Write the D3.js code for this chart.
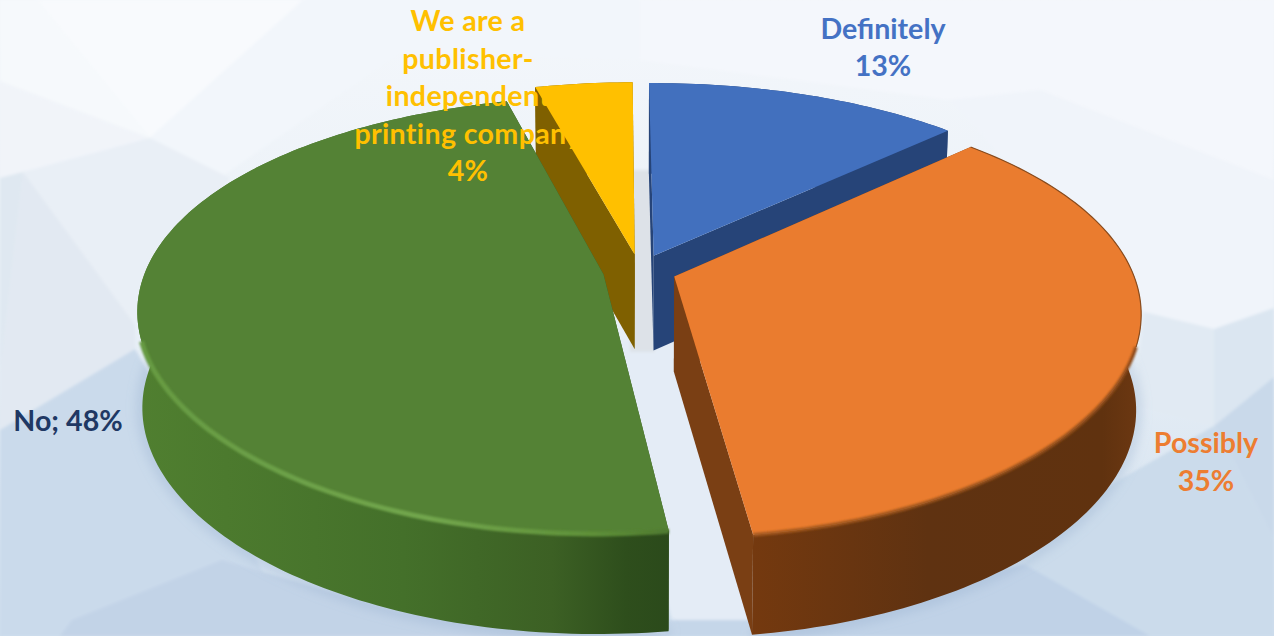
<!DOCTYPE html>
<html>
<head>
<meta charset="utf-8">
<style>
  html, body { margin: 0; padding: 0; background: #eef3f9; overflow: hidden; }
  svg { display: block; }
  text { font-family: Lato, "Open Sans", sans-serif; font-weight: 700; }
</style>
<script src="https://cdn.jsdelivr.net/npm/d3@7/dist/d3.min.js"></script>
</head>
<body>
<svg id="chart" width="1274" height="636"></svg>
<script>
// Survey answers, in clockwise order from twelve o'clock.
const categories = ["Definitely", "Possibly", "No", "We are a publisher-independent printing company"];
const shares = [13, 35, 48, 4];
const topColors = ["#4270be", "#ea7c2f", "#548235", "#ffc000"];
const faceColors = ["#264478", "#7a3f14", "#385723", "#7f6000"];
const rimWidths = [0, 3.5, 5, 0];
const labelColors = ["#4472c4", "#ed7d31", "#1f3864", "#ffc000"];
const labelTracking = [0, 0, 0, 0.35];

// Horizontal shading of each outer wall: [offset, colour] stops.
const wallStops = [
  [[0, "#264478"], [1, "#264478"]],
  [[0, "#74390f"], [0.45, "#5f3211"], [0.9, "#60320f"], [1, "#6d3812"]],
  [[0, "#507f30"], [0.5, "#44702a"], [0.78, "#3c6024"], [0.92, "#2e4e1c"], [1, "#2b4a1b"]],
  [[0, "#7f6000"], [1, "#7f6000"]]
];
const rimStops = [
  [[0, "#4f7ccb"], [1, "#4f7ccb"]],
  [[0, "#a65a20"], [1, "#8f4c1a"]],
  [[0, "#669a42"], [0.55, "#72a64d"], [0.85, "#5f9139"], [1, "#4f7a30"]],
  [[0, "#ffcc33"], [1, "#ffcc33"]]
];

// Label layout: line breaks and anchor of the first baseline.
const labelLines = [
  ["Definitely", "13%"],
  ["Possibly", "35%"],
  ["No; 48%"],
  ["We are a", "publisher-", "independent", "printing company", "4%"]
];
const labelAnchors = [[883, 38.5], [1206, 453], [68, 431], [468, 31]];
const labelLeading = 37.5;

// Low-poly backdrop: polygon corners and fills, painted in order.
const backdropFacets = [
  { fill: "#f8fafd", pts: [[37, 0], [150, 138], [303, 0]] },
  { fill: "#f2f6fb", pts: [[303, 0], [640, 0], [640, 60], [400, 53], [220, 178], [150, 138]] },
  { fill: "#f1f4f9", pts: [[0, 81], [150, 138], [23, 172], [0, 178]] },
  { fill: "#f6f9fc", pts: [[0, 0], [37, 0], [150, 138], [0, 81]] },
  { fill: "#e9eff6", pts: [[150, 138], [23, 172], [135, 325], [140, 320], [230, 178]] },
  { fill: "#dfe8f1", pts: [[23, 172], [0, 178], [0, 372]] },
  { fill: "#e2e9f2", pts: [[23, 172], [135, 325], [135, 349], [0, 430], [0, 372]] },
  { fill: "#cadaeb", pts: [[0, 430], [135, 349], [300, 636], [0, 636]] },
  { fill: "#c2d3e7", pts: [[60, 636], [72, 620], [222, 560], [400, 612], [680, 636]] },
  { fill: "#f4f7fc", pts: [[640, 0], [1274, 0], [1274, 180], [1040, 90], [950, 100], [640, 60]] },
  { fill: "#f0f4fa", pts: [[950, 100], [1040, 90], [1274, 180], [1274, 308], [1214, 329], [1144, 312]] },
  { fill: "#e1eaf3", pts: [[1144, 312], [1214, 329], [1214, 426], [1134, 406]] },
  { fill: "#dbe6f1", pts: [[1214, 329], [1274, 308], [1274, 377], [1214, 426]] },
  { fill: "#c9d9ea", pts: [[1214, 426], [1274, 377], [1274, 540], [1234, 462]] },
  { fill: "#cbdbeb", pts: [[1107, 487], [1214, 426], [1234, 462], [1274, 540], [1274, 636], [1090, 636], [1024, 564]] },
  { fill: "#c0d2e7", pts: [[1024, 564], [1150, 636], [760, 636]] },
  { fill: "#e4ecf6", pts: [[600, 340], [680, 340], [760, 620], [672, 620]] },
  { fill: "#c5d6e9", pts: [[665, 620], [765, 620], [765, 636], [665, 636]] },
  { fill: "#dde2e8", pts: [[630, 170], [655, 170], [655, 352], [630, 352]] }
];

// Perspective set-up for the tilted disc.
const centerX = 639.5, centerY = 271;
const radiusX = 458, radiusY = 210;
const perspectiveX = 0.16, perspectiveY = 0.186;
const explode = 0.08, depth = 95, baseShrink = 0.99;
const rotation = -0.4 * Math.PI / 180;
const bevelLimit = -0.3;

const svg = d3.select("#chart");
const W = 1274, H = 636;
const defs = svg.append("defs");

const bg = defs.append("linearGradient").attr("id", "bg")
  .attr("x1", 0).attr("y1", 0).attr("x2", 0).attr("y2", 1);
bg.append("stop").attr("offset", "0").attr("stop-color", "#f4f7fb");
bg.append("stop").attr("offset", "0.5").attr("stop-color", "#e9f0f7");
bg.append("stop").attr("offset", "1").attr("stop-color", "#cfdeed");
defs.append("filter").attr("id", "soft").attr("x", "-5%").attr("y", "-5%").attr("width", "110%").attr("height", "110%")
  .append("feGaussianBlur").attr("stdDeviation", 1.5);
defs.append("filter").attr("id", "bevel").attr("filterUnits", "userSpaceOnUse")
  .attr("x", 0).attr("y", 0).attr("width", W).attr("height", H)
  .append("feGaussianBlur").attr("stdDeviation", 1);
defs.append("filter").attr("id", "halo").attr("filterUnits", "userSpaceOnUse")
  .attr("x", 0).attr("y", 0).attr("width", W).attr("height", H)
  .append("feGaussianBlur").attr("stdDeviation", 6);

svg.append("rect").attr("width", W).attr("height", H).attr("fill", "url(#bg)");
const line = d3.line();
svg.append("g").attr("filter", "url(#soft)")
  .selectAll("path").data(backdropFacets).join("path")
  .attr("d", d => line(d.pts) + "Z")
  .attr("fill", d => d.fill);

// Maps a disc coordinate (u right, v toward the viewer) to the screen.
function project(u, v, lower) {
  const sx = 1 / (1 - perspectiveX * v);
  const sy = 1 / (1 - perspectiveY * v);
  const shrink = lower ? baseShrink : 1;
  return [
    centerX + radiusX * u * sx * shrink,
    centerY + radiusY * v * sy + (lower ? depth * Math.pow(sy, 0.25) : 0)
  ];
}

const pie = d3.pie().sort(null).value(d => d)
  .startAngle(rotation).endAngle(2 * Math.PI + rotation);
const arcs = pie(shares).map((a, i) => ({ ...a, index: i }));

function rimPoint(a, theta, lower) {
  const mid = (a.startAngle + a.endAngle) / 2;
  return project(explode * Math.sin(mid) + Math.sin(theta),
                 -explode * Math.cos(mid) - Math.cos(theta), lower);
}
function apex(a, lower) {
  const mid = (a.startAngle + a.endAngle) / 2;
  return project(explode * Math.sin(mid), -explode * Math.cos(mid), lower);
}
function rimAngles(a) {
  const n = Math.max(6, Math.ceil((a.endAngle - a.startAngle) / 0.02));
  return d3.range(n + 1).map(k => a.startAngle + (a.endAngle - a.startAngle) * k / n);
}
function rimSamples(a, lower) {
  return rimAngles(a).map(t => rimPoint(a, t, lower));
}

function addGradient(id, a, stops) {
  const xs = rimSamples(a, false).map(p => p[0]);
  const g = defs.append("linearGradient").attr("id", id)
    .attr("gradientUnits", "userSpaceOnUse")
    .attr("x1", d3.min(xs)).attr("y1", 0)
    .attr("x2", d3.max(xs)).attr("y2", 0);
  stops.forEach(s => g.append("stop").attr("offset", s[0]).attr("stop-color", s[1]));
}
arcs.forEach(a => {
  addGradient("wall" + a.index, a, wallStops[a.index]);
  addGradient("rim" + a.index, a, rimStops[a.index]);
});

// Soft shadow that the two front slices throw on the backdrop.
[arcs[2], arcs[1]].forEach(a => {
  svg.append("path")
    .attr("d", line(rimSamples(a, true)))
    .attr("fill", "none")
    .attr("stroke", "#8ba6c8")
    .attr("stroke-opacity", 0.45)
    .attr("stroke-width", 8)
    .attr("filter", "url(#halo)");
});

// Radial faces first, then the curved wall; the top surface is added afterwards.
function drawBody(parent, a) {
  const i = a.index;
  const top = rimSamples(a, false), bottom = rimSamples(a, true);
  const faces = [
    [apex(a, false), top[0], bottom[0], apex(a, true)],
    [apex(a, false), top[top.length - 1], bottom[bottom.length - 1], apex(a, true)]
  ];
  const body = parent.append("g").attr("class", "slice-" + i);
  body.selectAll("path.face").data(faces).join("path")
    .attr("class", "face")
    .attr("d", d => line(d) + "Z")
    .attr("fill", faceColors[i]);
  body.append("path")
    .attr("d", line(top.concat(bottom.slice().reverse())) + "Z")
    .attr("fill", `url(#wall${i})`);
}

function drawTop(parent, a) {
  parent.append("path")
    .attr("class", "top-" + a.index)
    .attr("d", line([apex(a, false), ...rimSamples(a, false)]) + "Z")
    .attr("fill", topColors[a.index]);
  const width = rimWidths[a.index];
  if (!width) return;
  // Bevel along the near part of the rim, below the disc's widest point.
  const near = rimAngles(a).filter(t => Math.cos(t) < bevelLimit)
    .map(t => rimPoint(a, t, false));
  parent.append("path")
    .attr("d", line(near))
    .attr("fill", "none")
    .attr("stroke", `url(#rim${a.index})`)
    .attr("stroke-width", width)
    .attr("filter", "url(#bevel)");
  // Thin dark edge on the far side of the orange slice.
  if (a.index === 1) {
    const far = rimAngles(a).filter(t => Math.cos(t) >= bevelLimit - 0.03)
      .map(t => rimPoint(a, t, false));
    parent.append("path")
      .attr("d", line(far))
      .attr("fill", "none")
      .attr("stroke", "#8a4d1f")
      .attr("stroke-width", 1.2);
  }
}

// Back slices first, so nearer ones overlap them.
const chart = svg.append("g");
[3, 0, 2, 1].forEach(i => {
  drawBody(chart, arcs[i]);
  if (i !== 3) drawTop(chart, arcs[i]);
});

// Labels.
const labels = svg.append("g");
categories.forEach((c, i) => {
  const t = labels.append("text")
    .attr("text-anchor", "middle")
    .attr("fill", labelColors[i])
    .attr("font-size", 28.6)
    .attr("letter-spacing", labelTracking[i])
    .attr("data-category", c);
  labelLines[i].forEach((ln, k) => {
    t.append("tspan")
      .attr("x", labelAnchors[i][0])
      .attr("y", labelAnchors[i][1] + k * labelLeading)
      .text(ln);
  });
});

// The smallest slice's top surface sits over its label.
drawTop(svg.append("g"), arcs[3]);
</script>
</body>
</html>
